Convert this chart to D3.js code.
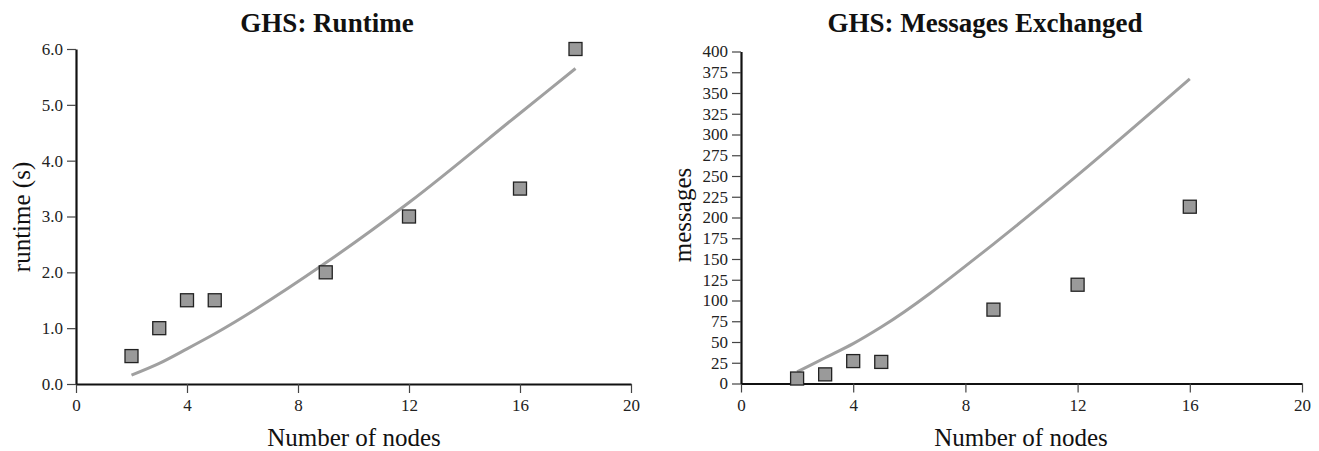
<!DOCTYPE html>
<html>
<head>
<meta charset="utf-8">
<script src="https://cdn.jsdelivr.net/npm/d3@7"></script>
<style>
  body { margin: 0; background: #fff; }
  svg { display: block; font-family: "Liberation Serif", "DejaVu Serif", serif; }
</style>
</head>
<body>
<div id="chart"></div>
<script>
// number of nodes per run
const runtimeNodes = [2, 3, 4, 5, 9, 12, 16, 18]
const runtimeMeasured = [0.5, 1.0, 1.5, 1.5, 2.0, 3.0, 3.5, 6.0]
const runtimeExpected = [0.16, 0.37, 0.63, 0.9, 2.17, 3.25, 4.85, 5.65]
const runtimeTicks = [0, 1, 2, 3, 4, 5, 6]

const messageNodes = [2, 3, 4, 5, 9, 12, 16]
const messagesMeasured = [6, 11, 27, 26, 89, 119, 213]
const messagesExpected = [14, 31, 48, 68, 168, 251, 367]
const messageTicks = [0, 25, 50, 75, 100, 125, 150, 175, 200, 225, 250, 275, 300, 325, 350, 375, 400]

const nodeTicks = [0, 4, 8, 12, 16, 20]

const lineColor = '#a0a0a0'
const markerFill = '#9a9a9a'

let svg = d3.select('#chart').append('svg')
  .attr('width', 1319)
  .attr('height', 451)

function drawPanel(opts) {
  let g = svg.append('g')

  let x = d3.scaleLinear().domain([0, 20]).range(opts.xRange)
  let y = d3.scaleLinear().domain([0, opts.yMax]).range(opts.yRange)

  // axes
  let xAxis = g.append('g')
    .attr('transform', 'translate(0,' + opts.yRange[0] + ')')
    .call(d3.axisBottom(x).tickValues(nodeTicks).tickSize(9).tickSizeOuter(0).tickPadding(6))
  let yAxis = g.append('g')
    .attr('transform', 'translate(' + opts.xRange[0] + ',0)')
    .call(d3.axisLeft(y).tickValues(opts.yTicks).tickSize(9).tickSizeOuter(0).tickPadding(4).tickFormat(opts.fmt))

  ;[xAxis, yAxis].forEach(a => {
    a.attr('font-family', null).attr('font-size', null)
    a.select('.domain').attr('stroke', '#111').attr('stroke-width', 2.2)
    a.selectAll('.tick line').attr('stroke', '#444').attr('stroke-width', 1.2)
    a.selectAll('.tick text')
      .attr('fill', '#222')
      .style('font-family', '"Liberation Serif", serif')
      .style('font-size', '17px')
  })

  // expected curve
  let pts = opts.nodes.map((n, i) => [n, opts.expected[i]])
  g.append('path')
    .datum(pts)
    .attr('d', d3.line().x(d => x(d[0])).y(d => y(d[1])).curve(d3.curveMonotoneX))
    .attr('fill', 'none')
    .attr('stroke', lineColor)
    .attr('stroke-width', 3)

  // measured points
  let s = 13
  g.selectAll('.marker')
    .data(opts.nodes.map((n, i) => [n, opts.measured[i]]))
    .enter().append('rect')
    .attr('class', 'marker')
    .attr('x', d => x(d[0]) - s / 2)
    .attr('y', d => y(d[1]) - s / 2)
    .attr('width', s)
    .attr('height', s)
    .attr('fill', markerFill)
    .attr('stroke', '#222')
    .attr('stroke-width', 1.3)

  // labels
  g.append('text')
    .attr('x', opts.titleX)
    .attr('y', 32)
    .attr('text-anchor', 'middle')
    .style('font-size', '27px')
    .style('font-weight', 'bold')
    .attr('fill', '#111')
    .text(opts.title)

  g.append('text')
    .attr('x', opts.xLabelX)
    .attr('y', 446)
    .attr('text-anchor', 'middle')
    .style('font-size', '25px')
    .attr('fill', '#111')
    .text('Number of nodes')

  g.append('text')
    .attr('transform', 'translate(' + opts.yLabelX + ',' + opts.yLabelY + ') rotate(-90)')
    .attr('text-anchor', 'middle')
    .style('font-size', '25px')
    .attr('fill', '#111')
    .text(opts.yLabel)
}

drawPanel({
  xRange: [76, 631],
  yRange: [384, 49],
  yMax: 6,
  yTicks: runtimeTicks,
  fmt: d3.format('.1f'),
  nodes: runtimeNodes,
  measured: runtimeMeasured,
  expected: runtimeExpected,
  title: 'GHS: Runtime',
  titleX: 327,
  xLabelX: 354,
  yLabel: 'runtime (s)',
  yLabelX: 30,
  yLabelY: 217
})

drawPanel({
  xRange: [741, 1302],
  yRange: [383.5, 51.5],
  yMax: 400,
  yTicks: messageTicks,
  fmt: d3.format('d'),
  nodes: messageNodes,
  measured: messagesMeasured,
  expected: messagesExpected,
  title: 'GHS: Messages Exchanged',
  titleX: 985,
  xLabelX: 1021,
  yLabel: 'messages',
  yLabelX: 691,
  yLabelY: 215
})
</script>
</body>
</html>
